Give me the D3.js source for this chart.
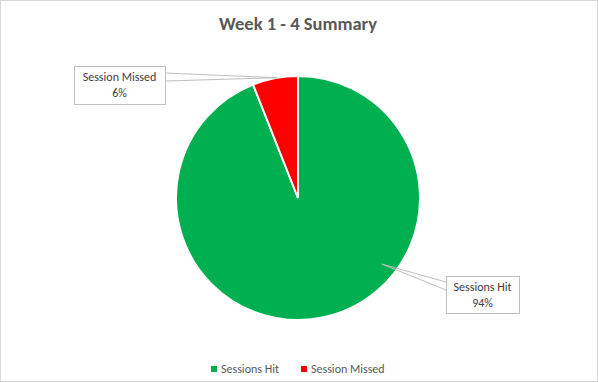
<!DOCTYPE html>
<html><head><meta charset="utf-8">
<script src="https://cdn.jsdelivr.net/npm/d3@7"></script>
<style>body{margin:0;background:#fff}svg{display:block}</style>
</head><body>
<script>
const categories = ["Sessions Hit", "Session Missed"];
const values = [94, 6];
const labels = ["94%", "6%"];
const colors = ["#00B050", "#FF0000"];
const title = "Week 1 - 4 Summary";

const W = 598, H = 382;
const svg = d3.select("body").append("svg").attr("width", W).attr("height", H);
svg.append("rect").attr("x",0.5).attr("y",0.5).attr("width",W-1).attr("height",H-1)
  .attr("fill","#fff").attr("stroke","#d9d9d9");

const font = "Carlito, 'Open Sans', 'Liberation Sans', sans-serif";
svg.append("text").attr("x", 298).attr("y", 30).attr("text-anchor","middle")
  .attr("font-family", font).attr("font-weight","bold").attr("font-size",18.5)
  .attr("fill","#595959").text(title);

const cx = 298, cy = 198, r = 122;
const pie = d3.pie().sort(null).value(d => d)(values);
const arc = d3.arc().innerRadius(0).outerRadius(r);
const g = svg.append("g").attr("transform", `translate(${cx},${cy})`);
g.selectAll("path").data(pie).join("path")
  .attr("d", arc).attr("fill", (d,i) => colors[i])
  .attr("stroke","#fff").attr("stroke-width",2);

// callouts
const boxes = [
  {x: 446, y: 276, w: 73, h: 37, frac: 0.379, anchorR: 0.875, y1: 6, y2: 14},
  {x: 74, y: 66, w: 91, h: 38, frac: 0.55, anchorR: 1.0, y1: 7, y2: 15}
];
pie.forEach((d,i) => {
  const b = boxes[i];
  const a = d.startAngle + (d.endAngle - d.startAngle) * b.frac;
  const px = cx + Math.sin(a) * r * b.anchorR;
  const py = cy - Math.cos(a) * r * b.anchorR;
  const ex = i === 0 ? b.x : b.x + b.w;
  svg.append("path").attr("d", `M${ex},${b.y + b.y1}L${px},${py}L${ex},${b.y + b.y2}`)
    .attr("fill","none").attr("stroke","#bfbfbf").attr("stroke-width",1);
  svg.append("rect").attr("x", b.x+0.5).attr("y", b.y+0.5).attr("width", b.w).attr("height", b.h)
    .attr("fill","#fff").attr("stroke","#bfbfbf");
  svg.append("text").attr("x", b.x + b.w/2).attr("y", b.y + 15).attr("text-anchor","middle")
    .attr("font-family", font).attr("font-size",12).attr("fill","#404040").text(categories[i]);
  svg.append("text").attr("x", b.x + b.w/2).attr("y", b.y + 31).attr("text-anchor","middle")
    .attr("font-family", font).attr("font-size",12).attr("fill","#404040").text(labels[i]);
});

// legend
const lx = [211, 301];
categories.forEach((c,i) => {
  svg.append("rect").attr("x", lx[i]).attr("y", 366).attr("width",6).attr("height",6).attr("fill", colors[i]);
  svg.append("text").attr("x", lx[i]+10).attr("y", 373).attr("font-family", font)
    .attr("font-size",12).attr("fill","#595959").text(c);
});
</script>
</body></html>
